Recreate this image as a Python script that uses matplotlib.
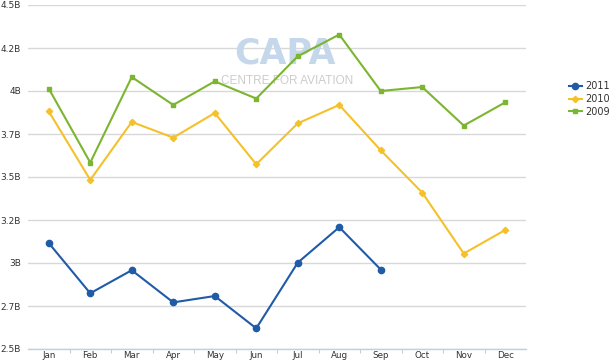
import matplotlib
matplotlib.use("Agg")
import matplotlib.pyplot as plt
from matplotlib.ticker import FixedLocator, NullFormatter

months = ["Jan", "Feb", "Mar", "Apr", "May", "Jun", "Jul", "Aug", "Sep", "Oct", "Nov", "Dec"]
s2011 = [3.116, 2.824, 2.958, 2.771, 2.808, 2.620, 3.002, 3.208, 2.962]
s2010 = [3.882, 3.483, 3.820, 3.729, 3.872, 3.574, 3.812, 3.919, 3.655, 3.409, 3.055, 3.192]
s2009 = [4.014, 3.584, 4.081, 3.919, 4.056, 3.956, 4.202, 4.328, 4.000, 4.023, 3.799, 3.934]
yticks = [2.5, 2.75, 3.0, 3.25, 3.5, 3.75, 4.0, 4.25, 4.5]
ylabels = ["2.5B", "2.7B", "3B", "3.2B", "3.5B", "3.7B", "4B", "4.2B", "4.5B"]

W, H = 610, 362
fig = plt.figure(figsize=(W / 100, H / 100), dpi=100)
ax = fig.add_axes([28 / W, (H - 349) / H, (526 - 28) / W, (349 - 5) / H])

x = list(range(len(months)))
ax.plot(x[:len(s2011)], s2011, color="#1f5ba6", lw=1.5, marker="o", ms=4.5, label="2011", zorder=5)
ax.plot(x, s2010, color="#f5c12a", lw=1.5, marker="D", ms=3.2, label="2010", zorder=4)
ax.plot(x, s2009, color="#7cb530", lw=1.5, marker="s", ms=3.5, label="2009", zorder=3)

ax.set_xlim(-0.5, 11.5)
ax.set_ylim(2.5, 4.5)
ax.set_yticks(yticks)
ax.set_yticklabels(ylabels)
ax.set_xticks(x)
ax.set_xticklabels(months)
ax.xaxis.set_minor_locator(FixedLocator([i + 0.5 for i in range(11)]))
ax.xaxis.set_minor_formatter(NullFormatter())
ax.tick_params(axis="x", which="major", length=0, labelsize=6.3, colors="#333333", pad=1.5)
ax.tick_params(axis="x", which="minor", length=3, color="#c0d0e0", width=0.8, direction="out")
ax.tick_params(axis="y", length=0, labelsize=6.5, colors="#333333", pad=5)
ax.grid(axis="y", color="#d8d8d8", lw=1)
ax.set_axisbelow(True)
for s in ["top", "right", "left"]:
    ax.spines[s].set_visible(False)
ax.spines["bottom"].set_color("#c0d0e0")
ax.spines["bottom"].set_linewidth(1)

# watermark (behind the lines)
ax.text((285 - 28) / (526 - 28), (349 - 54) / 344, "CAPA", fontsize=25, fontweight="heavy",
        color="#c5d7ea", ha="center", va="center", zorder=1, family="DejaVu Sans",
        transform=ax.transAxes)
ax.text((287 - 28) / (526 - 28), (349 - 80.5) / 344, "CENTRE FOR AVIATION", fontsize=8.5,
        color="#cccccc", ha="center", va="center", zorder=1, family="Liberation Sans",
        transform=ax.transAxes)

leg = fig.legend(loc="upper left", bbox_to_anchor=(569 / W, 1 - 81 / H), frameon=False,
                 fontsize=7, handlelength=1.3, handletextpad=0.4, labelspacing=0.3,
                 borderaxespad=0, borderpad=0)
for t in leg.get_texts():
    t.set_color("#333333")

fig.savefig("out.png", dpi=100)
